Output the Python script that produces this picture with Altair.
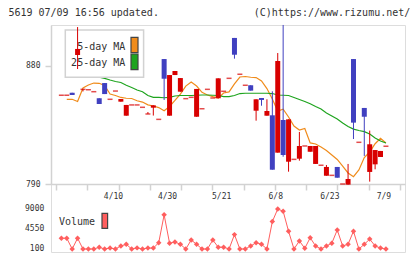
import altair as alt
import pandas as pd

# ---- daily sessions (oldest first) ----
opens = [857.7, 857.7, 859.6, 888.4, 862.2, 861.9, 860.4, 855.4, 867.0, 854.6,
         860.9, 852.8, 842.1, 850.3, 850.3, 848.5, 843.4, 848.2, 839.3, 885.3,
         842.1, 873.1, 860.4, 855.1, 856.1, 841.3, 847.4, 862.2, 855.6, 855.4,
         860.7, 870.6, 901.4, 873.7, 865.3, 865.3, 845.9, 855.6, 842.1, 842.4,
         813.9, 838.8, 807.0, 808.8, 809.3, 819.0, 814.6, 805.3, 804.3, 796.3,
         796.6, 803.0, 790.0, 789.5, 885.3, 821.8, 848.0, 799.2, 805.0, 810.6,
         818.8]
highs = [857.7, 857.7, 859.6, 909.7, 862.2, 861.9, 860.4, 855.4, 867.0, 854.6,
         860.9, 854.8, 850.3, 850.3, 850.3, 848.5, 844.9, 850.0, 839.3, 885.3,
         873.1, 876.2, 870.8, 855.1, 856.1, 862.5, 847.4, 862.2, 855.6, 870.6,
         860.7, 870.6, 901.4, 873.7, 865.3, 865.3, 854.6, 855.6, 854.6, 860.7,
         889.9, 911.3, 839.3, 808.8, 829.7, 819.0, 819.0, 819.0, 804.3, 804.5,
         796.6, 803.0, 790.0, 805.3, 885.3, 821.8, 848.0, 830.7, 815.9, 815.2,
         818.8]
lows = [857.7, 857.7, 857.9, 877.7, 860.6, 861.9, 860.4, 851.0, 858.6, 854.6,
        860.9, 852.8, 842.1, 850.3, 850.3, 848.5, 843.4, 842.2, 839.3, 854.1,
        842.1, 873.1, 860.4, 855.1, 856.1, 841.3, 847.4, 862.2, 855.6, 855.4,
        860.7, 870.6, 885.6, 873.7, 865.3, 861.2, 838.3, 849.7, 842.1, 800.9,
        813.9, 810.8, 799.4, 808.8, 807.8, 819.0, 814.6, 805.3, 804.3, 796.3,
        796.6, 794.8, 790.0, 789.5, 824.3, 821.8, 811.4, 791.8, 801.2, 810.6,
        818.8]
closes = [857.7, 857.7, 857.9, 893.0, 862.2, 861.9, 860.4, 851.0, 858.6, 854.6,
          860.9, 854.8, 850.3, 850.3, 850.3, 848.5, 843.4, 850.0, 839.3, 870.3,
          873.1, 876.2, 870.8, 855.1, 856.1, 862.5, 847.4, 862.2, 855.6, 870.6,
          860.7, 870.6, 888.6, 873.7, 865.3, 861.2, 854.6, 854.1, 845.7, 800.9,
          883.8, 812.1, 839.3, 808.8, 819.0, 819.0, 819.0, 819.0, 804.3, 803.0,
          796.6, 794.8, 790.0, 793.8, 836.8, 821.8, 841.3, 820.3, 815.9, 815.2,
          818.8]

ma5 = [None, 854.6, 854.6, 852.9, 863.2, 865.5, 867.0, 866.8, 865.1, 858.6,
       857.5, 856.0, 855.4, 855.2, 853.5, 852.5, 850.4, 849.5, 848.3, 845.9,
       849.1, 853.7, 858.6, 864.7, 867.8, 864.7, 859.9, 857.9, 856.7, 855.6,
       859.4, 860.2, 866.3, 871.6, 872.0, 871.4, 871.2, 868.6, 862.8, 854.8,
       845.7, 847.0, 841.1, 834.2, 831.2, 832.3, 821.3, 820.5, 818.2, 815.6,
       812.1, 808.7, 803.7, 798.4, 795.6, 800.7, 810.2, 814.4, 820.7, 824.9,
       821.3]
ma25 = [None, 876.9, 875.0, 874.3, 873.5, 872.8, 872.0, 871.4, 870.5, 869.3,
        868.2, 867.4, 865.3, 863.6, 861.7, 860.4, 857.5, 856.1, 856.0, 855.8,
        856.1, 857.1, 857.5, 857.5, 857.5, 857.7, 857.9, 857.9, 857.7, 857.5,
        856.7, 856.6, 857.5, 859.0, 859.2, 859.2, 859.2, 859.2, 859.2, 859.0,
        857.9, 857.7, 857.5, 856.0, 854.4, 852.9, 851.2, 849.1, 847.2, 844.2,
        841.9, 839.6, 836.5, 833.9, 831.9, 830.8, 829.9, 828.1, 825.1, 822.8,
        821.3]

volume = [2500, 2500, 100, 2500, 100, 100, 100, 480, 100, 300,
          100, 770, 1150, 100, 350, 100, 300, 300, 1500, 7700,
          1400, 1650, 1150, 100, 2100, 1150, 100, 100, 2100, 500,
          500, 100, 3300, 100, 100, 770, 1500, 1150, 100, 6200,
          9000, 8500, 4050, 100, 1900, 250, 2600, 770, 100, 770,
          1400, 4330, 770, 1150, 4050, 100, 1150, 2300, 770, 300,
          100]

date_pos = [10, 20, 30, 40, 50, 60]
date_text = ["4/10", "4/30", "5/21", "6/8", "6/23", "7/9"]
price_marks = [790, 880]
volume_marks = [100, 4550, 9000]

RED = "#d80000"
BLUE = "#4040c0"
ORANGE = "#f08c1c"
GREEN = "#1ea41e"
VOL = "#ff5e5e"
AXIS = "#d2d2d2"
INK = "#333333"
MONO = "DejaVu Sans Mono"

W, H = 354, 227
PRICE_H = 159
X_LO, X_HI = -0.99, 62.6
step = (X_HI - X_LO) / 11
x_ticks = [round(X_LO + k * step, 4) for k in range(12)]
x_ticks[-1] = X_HI

n = len(closes)
candles = pd.DataFrame({"i": range(n), "open": opens, "high": highs,
                        "low": lows, "close": closes})
candles["dir"] = ["up" if c >= o else "down" for o, c in zip(opens, closes)]
bodies = candles[candles["open"] != candles["close"]]
dojis = candles[candles["open"] == candles["close"]]

ma = pd.DataFrame({
    "i": list(range(n)) * 2,
    "value": ma5 + ma25,
    "series": ["5"] * n + ["25"] * n,
}).dropna()

vol = pd.DataFrame({"i": range(n), "v": volume})
one = pd.DataFrame({"k": [0]})

x_scale = alt.Scale(domain=[X_LO, X_HI], nice=False, zero=False)
price_scale = alt.Scale(domain=[790, 911.27], range=[PRICE_H, 0], nice=False, zero=False)
vol_scale = alt.Scale(domain=[100, 9000], range=[224, 184], nice=False, zero=False)
dir_color = alt.Color("dir:N", scale=alt.Scale(domain=["up", "down"], range=[RED, BLUE]),
                      legend=None)
X = alt.X("i:Q", scale=x_scale, axis=None)

ma_lines = alt.Chart(ma).mark_line(strokeWidth=1.2).encode(
    x=X,
    y=alt.Y("value:Q", scale=price_scale, axis=None),
    color=alt.Color("series:N", scale=alt.Scale(domain=["5", "25"], range=[ORANGE, GREEN]),
                    legend=None),
    detail="series:N",
)

legend_box = alt.Chart(one).mark_rect(fill="white", stroke=AXIS, strokeWidth=1.5).encode(
    x=alt.value(14.3), x2=alt.value(92.6), y=alt.value(5), y2=alt.value(52.3))


def legend_row(label, fill, yc, y0, y1):
    txt = alt.Chart(one).mark_text(align="right", baseline="middle", font=MONO,
                                   fontSize=10, color=INK).encode(
        x=alt.value(74.3), y=alt.value(yc), text=alt.value(label))
    sw = alt.Chart(one).mark_rect(fill=fill, stroke="#444444", strokeWidth=1.2).encode(
        x=alt.value(80), x2=alt.value(87), y=alt.value(y0), y2=alt.value(y1))
    return [txt, sw]


legend_items = legend_row("5-day MA", ORANGE, 21.7, 12.3, 27.7) + \
    legend_row("25-day MA", GREEN, 38.3, 29, 44.7)

wicks = alt.Chart(candles).mark_rule(strokeWidth=1).encode(
    x=alt.X("i:Q", scale=x_scale,
            axis=alt.Axis(values=x_ticks, labels=False, title=None, grid=False,
                          domainColor=AXIS, tickColor=AXIS, tickSize=6,
                          domainWidth=1.5, tickWidth=1.5, offset=-(H - PRICE_H))),
    y=alt.Y("low:Q", scale=price_scale,
            axis=alt.Axis(values=price_marks, title=None, grid=False, orient="left",
                          format="d", domainColor=AXIS, tickColor=AXIS, tickSize=6,
                          domainWidth=1.5, tickWidth=1.5, labelFont=MONO,
                          labelFontSize=8, labelColor=INK, labelPadding=5)),
    y2="high:Q",
    color=dir_color,
)

body_bars = alt.Chart(bodies).mark_bar(size=5).encode(
    x=X,
    y=alt.Y("open:Q", scale=price_scale, axis=None),
    y2="close:Q",
    color=dir_color,
)

doji_ticks = alt.Chart(dojis).mark_tick(orient="horizontal", size=5, thickness=1.5).encode(
    x=X,
    y=alt.Y("close:Q", scale=price_scale, axis=None),
    color=dir_color,
)

vol_line = alt.Chart(vol).mark_line(color=VOL, strokeWidth=1).encode(
    x=X, y=alt.Y("v:Q", scale=vol_scale, axis=None))
vol_pts = alt.Chart(vol).mark_point(shape="diamond", filled=True, size=30, color=VOL,
                                    opacity=1).encode(
    x=X, y=alt.Y("v:Q", scale=vol_scale, axis=None))

vol_labels = alt.Chart(pd.DataFrame({"v": volume_marks})).mark_text(
    align="right", baseline="middle", font=MONO, fontSize=8, color=INK).encode(
    x=alt.value(-6.7), y=alt.Y("v:Q", scale=vol_scale, axis=None),
    text=alt.Text("v:Q", format="d"))

date_labels = alt.Chart(pd.DataFrame({"i": date_pos, "label": date_text})).mark_text(
    align="center", baseline="middle", font=MONO, fontSize=8, color=INK, dx=-2).encode(
    x=X, y=alt.value(172.3), text="label:N")

vol_legend_txt = alt.Chart(one).mark_text(align="left", baseline="middle", font=MONO,
                                          fontSize=10, color=INK).encode(
    x=alt.value(8), y=alt.value(197.3), text=alt.value("Volume"))
vol_legend_sw = alt.Chart(one).mark_rect(fill=VOL, stroke="#444444", strokeWidth=1.2).encode(
    x=alt.value(51), x2=alt.value(56.6), y=alt.value(188.3), y2=alt.value(203.3))

header_left = alt.Chart(one).mark_text(align="left", baseline="middle", font=MONO,
                                       fontSize=10, color=INK).encode(
    x=alt.value(-42.6), y=alt.value(-12), text=alt.value("5619 07/09 16:56 updated."))
header_right = alt.Chart(one).mark_text(align="right", baseline="middle", font=MONO,
                                        fontSize=10, color=INK).encode(
    x=alt.value(359.3), y=alt.value(-12), text=alt.value("(C)https://www.rizumu.net/"))

chart = alt.layer(
    ma_lines, legend_box, *legend_items, wicks, body_bars, doji_ticks,
    vol_line, vol_pts, vol_labels, date_labels, vol_legend_txt, vol_legend_sw,
    header_left, header_right,
).resolve_scale(
    y="independent", color="independent"
).resolve_axis(
    x="independent", y="independent"
).properties(
    width=W, height=H,
    padding={"left": 51, "top": 25, "right": 15, "bottom": 7},
    autosize=alt.AutoSizeParams(type="none"),
).configure_view(stroke=None).configure(background="white")

chart.save("out.html", embed_options={"renderer": "svg", "actions": False})
